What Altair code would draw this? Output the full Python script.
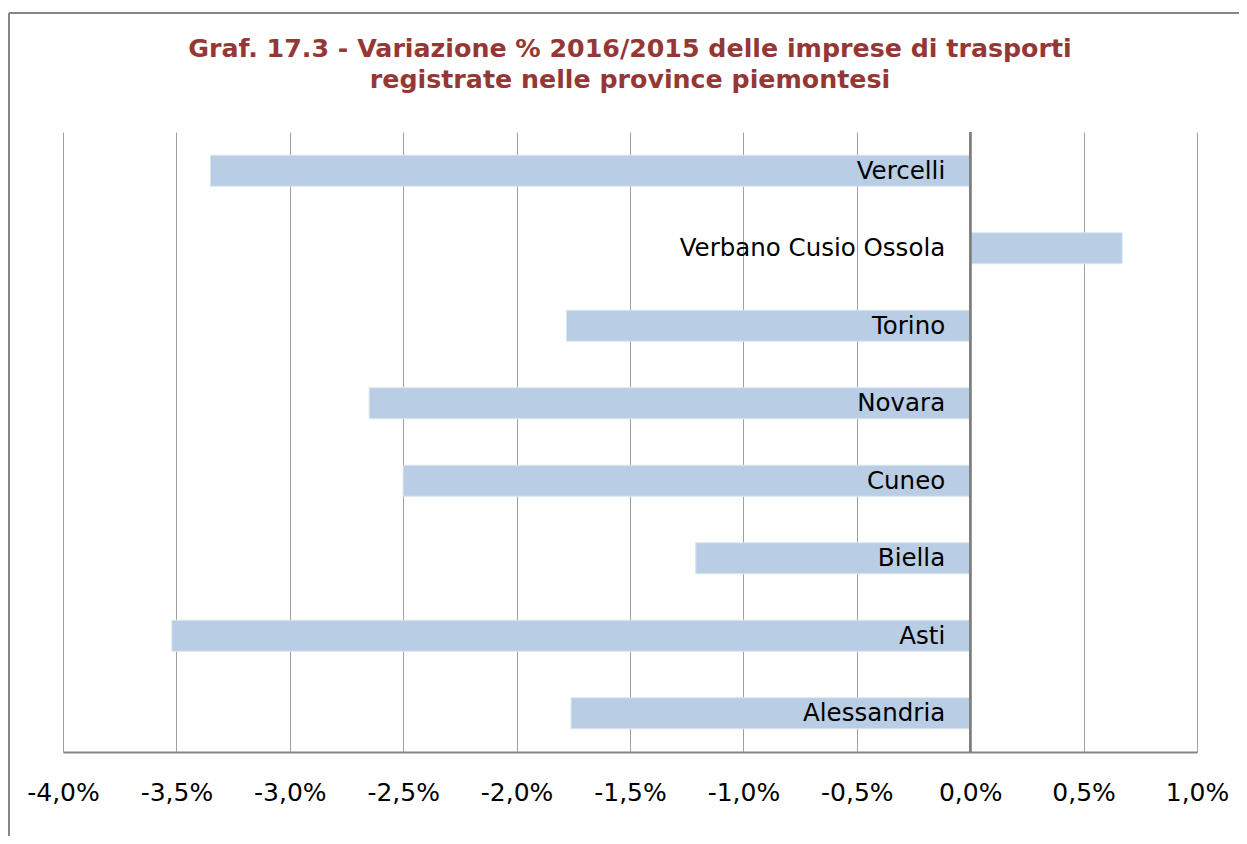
import altair as alt
import pandas as pd

province = ["Vercelli", "Verbano Cusio Ossola", "Torino", "Novara",
            "Cuneo", "Biella", "Asti", "Alessandria"]
variazione = [-3.35, 0.67, -1.78, -2.65, -2.50, -1.21, -3.52, -1.76]
x_ticks = [-4.0, -3.5, -3.0, -2.5, -2.0, -1.5, -1.0, -0.5, 0.0, 0.5, 1.0]

df = pd.DataFrame({"prov": province, "val": variazione})

label_expr = "replace(replace(format(datum.value, '.1f'), '.', ','), '\u2212', '-') + '%'"

x_enc = alt.X(
    "val:Q",
    scale=alt.Scale(domain=[-4.0, 1.0], nice=False, zero=False),
    axis=alt.Axis(
        values=x_ticks, labelExpr=label_expr, title=None, grid=True,
        gridColor="#a0a0a0", gridWidth=1, ticks=False, domain=True,
        domainColor="#868686", domainWidth=2, labelFont="DejaVu Sans",
        labelFontSize=25, labelColor="#000000", labelPadding=28,
        labelFlush=False,
    ),
)
y_enc = alt.Y(
    "prov:N", sort=province,
    scale=alt.Scale(paddingInner=0.6, paddingOuter=0.3),
    axis=None,
)

bars = alt.Chart(df).mark_bar(color="#B9CDE5", stroke="#dbe5f1", strokeWidth=1).encode(
    x=x_enc, y=y_enc
)

zero_line = alt.Chart(df).mark_rule(color="#808080", strokeWidth=2).encode(
    x=alt.datum(0), y=alt.value(0), y2=alt.value(620)
)

labels = alt.Chart(df).mark_text(
    align="right", baseline="middle", dx=-25, dy=1, font="DejaVu Sans",
    fontSize=24.5, color="#000000"
).encode(x=alt.datum(0), y=y_enc, text="prov:N")

frame_left = alt.Chart(df).mark_rule(color="#868686", strokeWidth=2).encode(
    x=alt.value(-54), y=alt.value(-119), y2=alt.value(800)
)
frame_top = alt.Chart(df).mark_rule(color="#868686", strokeWidth=2).encode(
    x=alt.value(-54), x2=alt.value(1300), y=alt.value(-119)
)

chart = alt.layer(bars, zero_line, labels, frame_left, frame_top).properties(
    width=1134, height=620,
    title=alt.TitleParams(
        text=["Graf. 17.3 - Variazione % 2016/2015 delle imprese di trasporti",
              "registrate nelle province piemontesi"],
        font="DejaVu Sans", fontSize=25.3, fontWeight="bold",
        color="#953735", lineHeight=31, anchor="middle", offset=-81,
    ),
    autosize=alt.AutoSizeParams(type="none"),
    padding={"left": 55, "top": 124, "right": 42, "bottom": 84},
).configure_view(stroke=None)

chart.save("out.html", embed_options={"renderer": "svg", "actions": False})
